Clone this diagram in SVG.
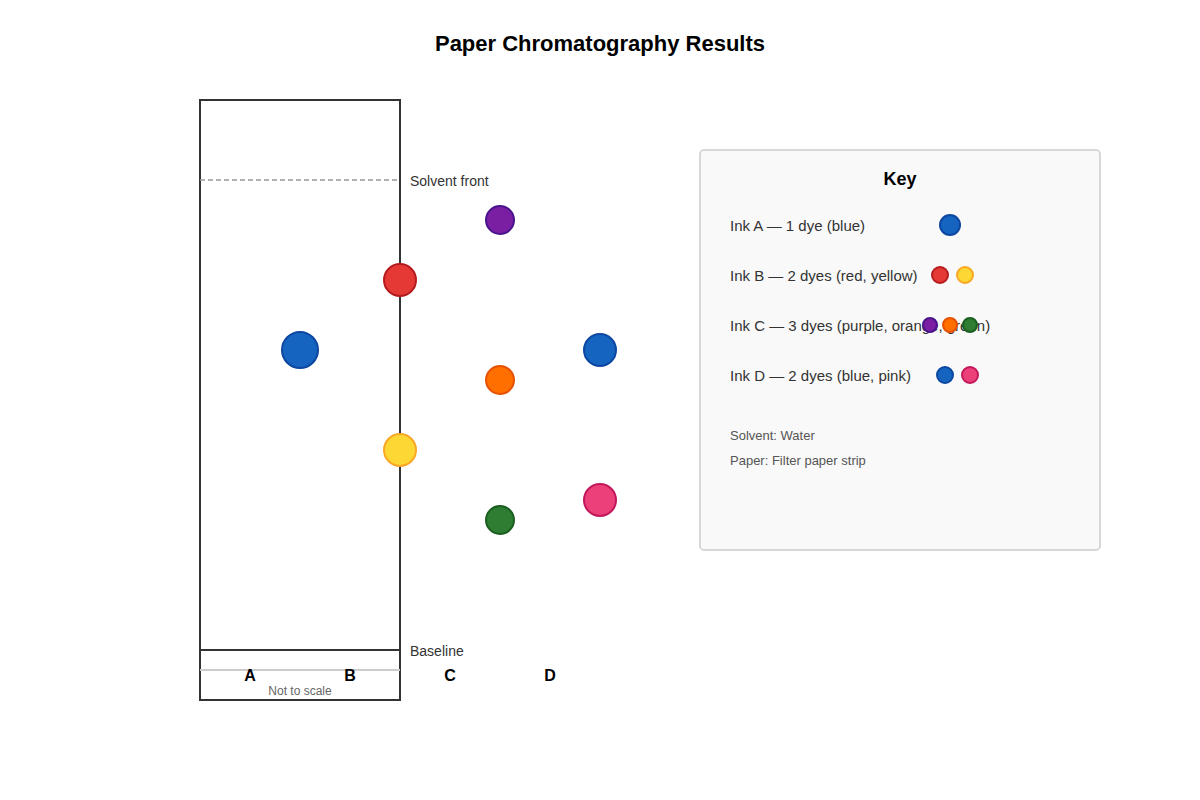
<svg xmlns="http://www.w3.org/2000/svg" width="1200" height="800" viewBox="0 0 1200 800">
<style>
text{font-family:"Liberation Sans",Arial,sans-serif}
.title{font-size:22px;font-weight:bold;fill:#000}
.lbl{font-size:14px;fill:#333}
.lane{font-size:16px;font-weight:bold;fill:#000;text-anchor:middle}
.key{font-size:15px;fill:#333}
.note{font-size:13px;fill:#555}
.blue{fill:#1565c0;stroke:#0d47a1;stroke-width:2}
.red{fill:#e53935;stroke:#b71c1c;stroke-width:2}
.yellow{fill:#fdd835;stroke:#f9a825;stroke-width:2}
.purple{fill:#7b1fa2;stroke:#4a148c;stroke-width:2}
.orange{fill:#ff6f00;stroke:#e65100;stroke-width:2}
.green{fill:#2e7d32;stroke:#1b5e20;stroke-width:2}
.pink{fill:#ec407a;stroke:#c2185b;stroke-width:2}
</style>
<rect width="1200" height="800" fill="#fff"/>
<text class="title" x="600" y="51" text-anchor="middle">Paper Chromatography Results</text>
<g id="paper">
<rect x="200" y="100" width="200" height="600" fill="#fff" stroke="#333" stroke-width="2"/>
<line x1="200" y1="180" x2="400" y2="180" stroke="#999" stroke-width="1.5" stroke-dasharray="5,3"/>
<line x1="200" y1="650" x2="400" y2="650" stroke="#333" stroke-width="2"/>
<line x1="200" y1="670" x2="400" y2="670" stroke="#ccc" stroke-width="2"/>
<text class="lbl" x="410" y="186">Solvent front</text>
<text class="lbl" x="410" y="656">Baseline</text>
<text x="300" y="695" font-size="12" fill="#666" text-anchor="middle">Not to scale</text>
</g>
<g id="lane-A"><circle class="blue" cx="300" cy="350" r="18"/><text class="lane" x="250" y="681">A</text></g>
<g id="lane-B"><circle class="red" cx="400" cy="280" r="16"/><circle class="yellow" cx="400" cy="450" r="16"/><text class="lane" x="350" y="681">B</text></g>
<g id="lane-C"><circle class="purple" cx="500" cy="220" r="14"/><circle class="orange" cx="500" cy="380" r="14"/><circle class="green" cx="500" cy="520" r="14"/><text class="lane" x="450" y="681">C</text></g>
<g id="lane-D"><circle class="blue" cx="600" cy="350" r="16"/><circle class="pink" cx="600" cy="500" r="16"/><text class="lane" x="550" y="681">D</text></g>
<g id="key">
<rect x="700" y="150" width="400" height="400" rx="4" fill="#f9f9f9" stroke="#ccc" stroke-width="1.5"/>
<text x="900" y="185" font-size="18" font-weight="bold" text-anchor="middle" fill="#000">Key</text>
<text class="key" x="730" y="231">Ink A — 1 dye (blue)</text>
<circle class="blue" cx="950" cy="225" r="10" stroke-width="1.5"/>
<text class="key" x="730" y="281">Ink B — 2 dyes (red, yellow)</text>
<circle class="red" cx="940" cy="275" r="8" stroke-width="1.5"/><circle class="yellow" cx="965" cy="275" r="8" stroke-width="1.5"/>
<text class="key" x="730" y="331">Ink C — 3 dyes (purple, orange, green)</text>
<circle class="purple" cx="930" cy="325" r="7" stroke-width="1.5"/><circle class="orange" cx="950" cy="325" r="7" stroke-width="1.5"/><circle class="green" cx="970" cy="325" r="7" stroke-width="1.5"/>
<text class="key" x="730" y="381">Ink D — 2 dyes (blue, pink)</text>
<circle class="blue" cx="945" cy="375" r="8" stroke-width="1.5"/><circle class="pink" cx="970" cy="375" r="8" stroke-width="1.5"/>
<text class="note" x="730" y="440">Solvent: Water</text>
<text class="note" x="730" y="465">Paper: Filter paper strip</text>
</g>
</svg>
